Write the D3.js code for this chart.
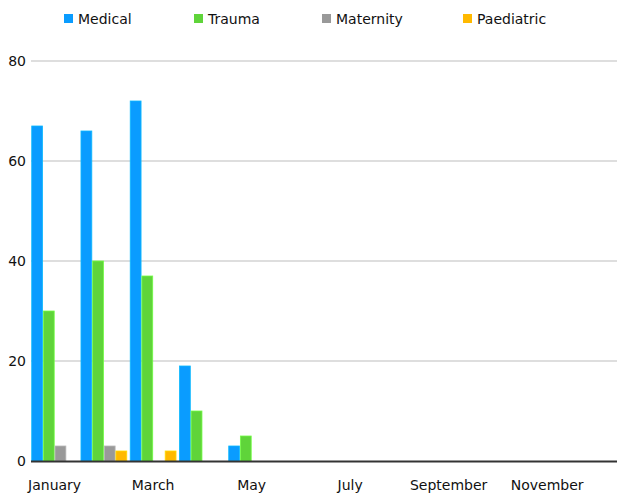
<!DOCTYPE html>
<html><head><meta charset="utf-8">
<script src="https://cdn.jsdelivr.net/npm/d3@7"></script>
<style>body{margin:0;background:#fff}svg{display:block;font-family:"DejaVu Sans",sans-serif}</style>
</head><body><svg id="c" width="617" height="494"></svg>
<script>
const months = ["January","February","March","April","May","June","July","August","September","October","November","December"];
const seriesNames = ["Medical","Trauma","Maternity","Paediatric"];
const medical    = [67,66,72,19,3,0,0,0,0,0,0,0];
const trauma     = [30,40,37,10,5,0,0,0,0,0,0,0];
const maternity  = [3,3,0,0,0,0,0,0,0,0,0,0];
const paediatric = [0,2,2,0,0,0,0,0,0,0,0,0];
const yTicks = [0,20,40,60,80];
const colors = ["#0a9cff","#5fd43a","#999999","#ffb900"];

(function(){
const values = [medical,trauma,maternity,paediatric];
const svg = d3.select("#c");
const pLeft = 30, pRight = 621, pTop = 61, pBottom = 461;

const x0 = d3.scaleBand().domain(months).range([pLeft,pRight]).paddingInner(0.07).paddingOuter(0.035);
const x1 = d3.scaleBand().domain(seriesNames).range([0,x0.bandwidth()]).paddingInner(0.07);
const y = d3.scaleLinear().domain([0,80]).range([pBottom,pTop]);

svg.append("g").selectAll("line").data(yTicks.filter(d=>d>0)).join("line")
  .attr("x1",pLeft+1).attr("x2",617).attr("y1",d=>y(d)).attr("y2",d=>y(d))
  .attr("stroke","#bdbdbd").attr("stroke-width",1.2);

svg.append("g").selectAll("text").data(yTicks).join("text")
  .attr("x",26).attr("y",d=>y(d)).attr("dy","0.36em").attr("text-anchor","end")
  .attr("font-size",14).attr("fill","#111").text(d=>d);

const g = svg.append("g");
months.forEach((m,i)=>{
  seriesNames.forEach((s,j)=>{
    const v = values[j][i];
    if (!v) return;
    g.append("rect")
      .attr("x",x0(m)+x1(s)).attr("width",x1.bandwidth())
      .attr("y",y(v)).attr("height",y(0)-y(v))
      .attr("fill",colors[j])
      .attr("stroke",d3.color(colors[j]).brighter(0.5)).attr("stroke-width",0.8);
  });
});

svg.append("line").attr("x1",pLeft+1).attr("x2",617).attr("y1",y(0)+0.5).attr("y2",y(0)+0.5)
  .attr("stroke","#333").attr("stroke-width",2);

svg.append("g").selectAll("text").data(months.filter((d,i)=>i%2===0)).join("text")
  .attr("x",d=>x0(d)+x0.bandwidth()/2).attr("y",490).attr("text-anchor","middle")
  .attr("font-size",14).attr("fill","#111").text(d=>d);

const legendX = [64,194,322,463];
const lg = svg.append("g");
seriesNames.forEach((s,j)=>{
  lg.append("rect").attr("x",legendX[j]).attr("y",14).attr("width",9).attr("height",9).attr("fill",colors[j]);
  lg.append("text").attr("x",legendX[j]+14).attr("y",19).attr("dy","0.36em")
    .attr("font-size",14).attr("fill","#111").text(s);
});
})();
</script></body></html>
